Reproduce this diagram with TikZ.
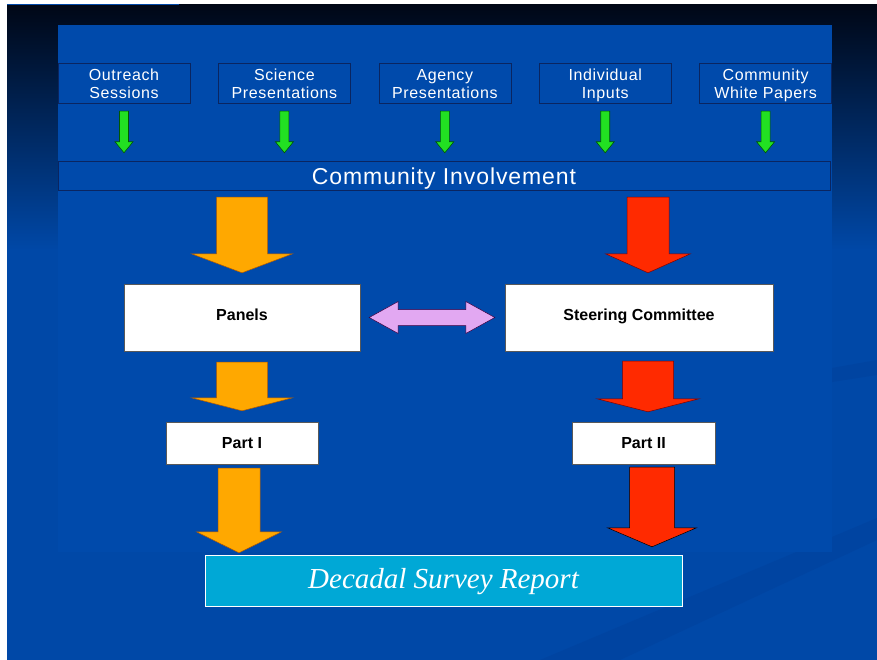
\documentclass[tikz,border=0pt]{standalone}
\usepackage{fontspec}
\newfontfamily\slidesans[LetterSpace=4]{Liberation Sans}
\newfontfamily\boxsans{Liberation Sans}
\newfontfamily\slideserif{Liberation Serif}
\usetikzlibrary{positioning,calc}

\definecolor{panelblue}{HTML}{004AAB}
\definecolor{slideblue}{HTML}{0048A7}
\definecolor{slidetop}{HTML}{000716}
\definecolor{slidemid}{HTML}{00245F}
\definecolor{waveblue}{HTML}{0044A1}
\definecolor{edgeblue}{HTML}{0A2560}
\definecolor{greenarrow}{HTML}{22E022}
\definecolor{orangearrow}{HTML}{FFA800}
\definecolor{redarrow}{HTML}{FF2A00}
\definecolor{lilac}{HTML}{E2A8F2}
\definecolor{reportcyan}{HTML}{00A8D6}

% block arrow pointing down: style, top, tip, half shaft, half head, head length
\newcommand{\blockdown}[6]{%
  \draw[#1] let \p1=(#2), \p2=(#3) in
    (\x2-#4,\y1) -- (\x2+#4,\y1) -- (\x2+#4,\y2+#6) -- (\x2+#5,\y2+#6)
    -- (\x2,\y2) -- (\x2-#5,\y2+#6) -- (\x2-#4,\y2+#6) -- cycle;}
\newcommand{\twolines}[2]{\rule{0pt}{17pt}#1\\#2\rule[-4pt]{0pt}{4pt}}

\tikzset{
  source/.style={draw=edgeblue, fill=panelblue, text=white, minimum width=132pt,
    minimum height=40pt, inner sep=0pt, align=center,
    font=\slidesans\fontsize{16}{18.3}\selectfont},
  bar/.style={draw=edgeblue, fill=panelblue, text=white, minimum width=772pt,
    minimum height=29pt, inner sep=0pt, font=\slidesans\fontsize{23}{26}\selectfont},
  whitebox/.style={draw=black!65, fill=white, text=black, inner sep=0pt,
    minimum height=#1, text height=11.5pt, text depth=6pt,
    font=\boxsans\bfseries\fontsize{16}{18}\selectfont},
  reportbox/.style={draw=white, fill=reportcyan, text=white, inner sep=0pt,
    minimum width=477pt, minimum height=51pt,
    font=\slideserif\itshape\fontsize{29}{32}\selectfont},
  greenblk/.style={fill=greenarrow, draw=green!35!black, line width=.6pt},
  orangeblk/.style={fill=orangearrow, draw=orange!70!black, line width=.5pt},
  redblk/.style={fill=redarrow, draw=red!50!black, line width=.5pt},
  lilacblk/.style={fill=lilac, draw=violet!50!black, line width=.5pt}
}

\begin{document}
\begin{tikzpicture}[x=1pt,y=-1pt]
  \useasboundingbox (0,0) rectangle (877,660);
  % slide background
  \fill[white] (0,0) rectangle (877,660);
  \shade[top color=slidetop, middle color=slidemid, bottom color=slideblue] (7,5) rectangle (877,250);
  \fill[slideblue] (7,249) rectangle (877,660);
  \draw[slideblue, line width=1pt] (7,4.5) -- (179,4.5);
  \fill[waveblue] (832,368) -- (877,360) -- (877,375) -- (832,382) -- cycle;
  \fill[waveblue] (540,660) -- (877,518) -- (877,540) -- (620,660) -- cycle;
  \fill[panelblue] (58,25) rectangle (832,552);

  % sources
  \node[source] (outreach) at (124,83) {\twolines{Outreach}{Sessions}};
  \node[source, right=28pt of outreach] (science) {\twolines{Science}{Presentations}};
  \node[source, right=28pt of science] (agency) {\twolines{Agency}{Presentations}};
  \node[source, right=28pt of agency] (individual) {\twolines{Individual}{Inputs}};
  \node[source, right=28pt of individual] (whitepapers) {\twolines{Community}{White Papers}};

  \node[bar] (comm) at (444,175.5) {\rule[-3pt]{0pt}{25pt}Community Involvement};

  \node[whitebox=67pt, minimum width=236pt] (panels) at (242,317.5) {Panels};
  \node[whitebox=67pt, minimum width=268pt] (steer) at (639,317.5) {Steering Committee};
  \node[whitebox=42pt, minimum width=152pt, text depth=1pt] (part1) at (242,443) {Part I};
  \node[whitebox=42pt, minimum width=143pt, text depth=1pt] (part2) at (643.5,443) {Part II};

  \node[reportbox] (report) at (443.5,580.5) {\rule[-4pt]{0pt}{27pt}Decadal Survey Report};

  % arrows
  \foreach \src in {outreach,science,agency,individual,whitepapers}
    \blockdown{greenblk}{$(\src.south)+(0,8)$}{$(\src.south |- comm.north)+(0,-8)$}{4.5pt}{9pt}{11pt};

  \blockdown{orangeblk}{$(comm.south -| panels.north)+(0,7)$}{$(panels.north)+(0,-11)$}{25.5pt}{50.5pt}{19pt}
  \blockdown{redblk}{$(comm.south -| steer.north)+(9,7)$}{$(steer.north)+(9,-11)$}{21pt}{42.5pt}{19pt}
  \blockdown{orangeblk}{$(panels.south)+(0,11)$}{$(part1.north)+(0,-11)$}{25.5pt}{50.5pt}{13pt}
  \blockdown{redblk}{$(steer.south)+(9,10)$}{$(part2.north)+(4.5,-10)$}{25.5pt}{51pt}{13pt}
  \blockdown{orangeblk}{$(part1.south)+(-3,4)$}{$(part1.south |- report.north)+(-3,-2)$}{21pt}{42.5pt}{21pt}
  \blockdown{redblk, draw=black}{$(part2.south)+(8.5,3)$}{$(part2.south |- report.north)+(8.5,-8)$}{22.5pt}{44.5pt}{19pt}

  \draw[lilacblk] let \p1=($(panels.east)+(9,0)$), \p2=($(steer.west)+(-10,0)$) in
    (\x1,\y1) -- (\x1+29pt,\y1+16pt) -- (\x1+29pt,\y1+8pt) -- (\x2-29pt,\y1+8pt)
    -- (\x2-29pt,\y1+16pt) -- (\x2,\y1) -- (\x2-29pt,\y1-16pt) -- (\x2-29pt,\y1-8pt)
    -- (\x1+29pt,\y1-8pt) -- (\x1+29pt,\y1-16pt) -- cycle;
\end{tikzpicture}
\end{document}
